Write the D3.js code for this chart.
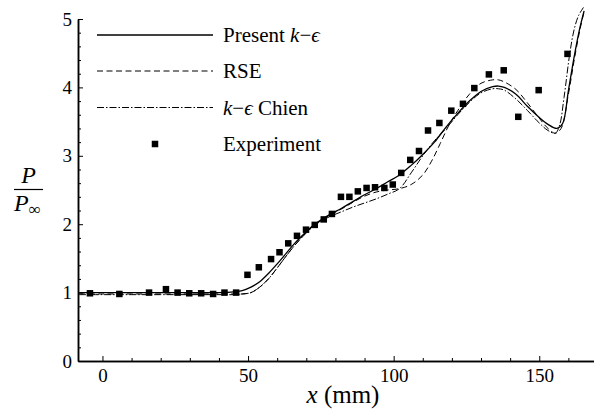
<!DOCTYPE html>
<html>
<head>
<meta charset="utf-8">
<script src="https://cdn.jsdelivr.net/npm/d3@7"></script>
<style>
  body { margin: 0; background: #fff; }
</style>
</head>
<body>
<div id="visualization"></div>
<script>
// experiment (squares)
const expX = [-4.3, 5.8, 16.0, 21.8, 25.8, 29.8, 33.9, 38.0, 41.9, 45.9, 49.8, 53.7, 57.9, 60.8,
  63.8, 66.8, 69.9, 72.9, 76.0, 78.8, 81.9, 84.8, 87.7, 90.7, 93.6, 96.8, 99.7, 102.6, 105.7,
  108.7, 111.8, 115.7, 119.8, 123.8, 127.7, 132.7, 137.8, 142.8, 149.8, 159.7];
const expY = [0.99, 0.98, 1.0, 1.05, 1.0, 0.99, 0.99, 0.98, 1.0, 1.0, 1.26, 1.37, 1.49, 1.59,
  1.72, 1.83, 1.92, 1.99, 2.07, 2.15, 2.40, 2.40, 2.48, 2.53, 2.54, 2.53, 2.58, 2.75, 2.94,
  3.07, 3.37, 3.48, 3.66, 3.76, 3.99, 4.19, 4.25, 3.57, 3.96, 4.49];

// present k-eps (solid)
const presX = [-8, 0, 10, 20, 30, 40, 45, 48, 51, 54, 57, 60, 63, 66, 69, 72, 75, 78, 82, 86,
  90, 94, 98, 102, 106, 110, 114, 118, 122, 126, 130, 134, 136, 138, 142, 146, 150, 153, 156,
  158, 160, 162, 164, 165.4];
const presY = [1.0, 1.0, 1.0, 1.0, 1.0, 1.0, 1.01, 1.03, 1.08, 1.16, 1.28, 1.42, 1.57, 1.72,
  1.85, 1.97, 2.06, 2.14, 2.23, 2.33, 2.43, 2.52, 2.62, 2.72, 2.86, 3.02, 3.20, 3.42, 3.62,
  3.80, 3.94, 4.01, 4.02, 4.0, 3.90, 3.72, 3.56, 3.46, 3.40, 3.47, 3.95, 4.45, 4.88, 5.12];

// RSE (dashed)
const rseX = [-8, 0, 10, 20, 30, 40, 45, 48, 51, 54, 57, 60, 63, 66, 69, 72, 75, 78, 82, 86,
  90, 94, 98, 102, 106, 110, 113, 116, 119, 122, 126, 130, 134, 136, 138, 142, 146, 150, 153,
  155.5, 157.5, 160, 162, 164, 165.5];
const rseY = [0.98, 0.98, 0.98, 0.98, 0.98, 0.98, 0.98, 0.98, 1.0, 1.08, 1.2, 1.36, 1.53, 1.69,
  1.83, 1.96, 2.05, 2.13, 2.22, 2.32, 2.41, 2.47, 2.50, 2.52, 2.58, 2.72, 2.92, 3.18, 3.45,
  3.66, 3.90, 4.06, 4.11, 4.11, 4.08, 3.97, 3.77, 3.55, 3.40, 3.33, 3.40, 3.90, 4.40, 4.85, 5.12];

// k-eps Chien (dash-dot)
const chienX = [-8, 0, 10, 20, 30, 40, 45, 48, 51, 54, 57, 60, 63, 66, 69, 72, 75, 78, 82, 86,
  90, 94, 98, 102, 106, 110, 114, 118, 122, 126, 130, 134, 136, 138, 142, 146, 150, 153, 155.5,
  157, 158.5, 160.5, 162, 163.5, 165.2];
const chienY = [0.97, 0.97, 0.97, 0.97, 0.97, 0.97, 0.97, 0.98, 1.0, 1.08, 1.2, 1.36, 1.53, 1.69,
  1.83, 1.95, 2.04, 2.11, 2.18, 2.25, 2.31, 2.37, 2.44, 2.52, 2.75, 3.0, 3.22, 3.40, 3.60, 3.78,
  3.92, 3.98, 3.98, 3.96, 3.83, 3.66, 3.48, 3.37, 3.33, 3.45, 3.85, 4.50, 4.85, 5.05, 5.17];

const xMajor = [0, 50, 100, 150];
const xMinor = [10, 20, 30, 40, 60, 70, 80, 90, 110, 120, 130, 140, 160];
const yMajor = [0, 1, 2, 3, 4, 5];
const yMinor = d3.range(0.2, 5, 0.2).filter(v => Math.abs(v - Math.round(v)) > 0.01);

const W = 594, H = 419;
const FONT = "Liberation Serif, DejaVu Serif, serif";
const svg = d3.select('#visualization').append('svg')
  .attr('width', W).attr('height', H);

const x = d3.scaleLinear().domain([-8.4, 168.8]).range([78, 594]);
const y = d3.scaleLinear().domain([0, 5]).range([361, 19]);

// axes, ticks pointing inward
function styleAxis(g) {
  g.attr('font-family', FONT).attr('font-size', 19);
  g.select('.domain').attr('stroke', '#000').attr('stroke-width', 1.5);
  g.selectAll('.tick line').attr('stroke', '#000').attr('stroke-width', 1);
  g.selectAll('.tick text').attr('fill', '#000');
}

svg.append('g').attr('transform', `translate(0,${y(0)})`)
  .call(d3.axisBottom(x).tickValues(xMinor).tickSize(-3).tickFormat('').tickSizeOuter(0))
  .call(styleAxis);
svg.append('g').attr('transform', `translate(0,${y(0)})`)
  .call(d3.axisBottom(x).tickValues(xMajor).tickSize(-5).tickPadding(8).tickSizeOuter(0))
  .call(styleAxis);

svg.append('g').attr('transform', `translate(${x.range()[0]},0)`)
  .call(d3.axisLeft(y).tickValues(yMinor).tickSize(-3).tickFormat('').tickSizeOuter(0))
  .call(styleAxis);
svg.append('g').attr('transform', `translate(${x.range()[0]},0)`)
  .call(d3.axisLeft(y).tickValues(yMajor).tickSize(-5).tickPadding(6)
    .tickFormat(d3.format('d')).tickSizeOuter(0))
  .call(styleAxis);

// curves
const line = d3.line().x(d => x(d[0])).y(d => y(d[1])).curve(d3.curveCatmullRom.alpha(0.5));
const series = [
  { xs: presX, ys: presY, dash: null, w: 1.3 },
  { xs: rseX, ys: rseY, dash: '6,3.5', w: 1 },
  { xs: chienX, ys: chienY, dash: '7,2,1.5,2', w: 1 }
];
series.forEach(s => {
  svg.append('path')
    .datum(d3.zip(s.xs, s.ys))
    .attr('d', line)
    .attr('fill', 'none')
    .attr('stroke', '#000')
    .attr('stroke-width', s.w)
    .attr('stroke-dasharray', s.dash);
});

// experiment squares
const sq = 6.5;
svg.append('g').selectAll('rect')
  .data(d3.zip(expX, expY))
  .join('rect')
  .attr('x', d => x(d[0]) - sq / 2)
  .attr('y', d => y(d[1]) - sq / 2)
  .attr('width', sq).attr('height', sq)
  .attr('fill', '#000');

// legend
const leg = svg.append('g').attr('font-family', FONT).attr('font-size', 21);
const legY = [35, 71, 107.5, 144];
series.forEach((s, i) => {
  leg.append('line')
    .attr('x1', 97).attr('x2', 213).attr('y1', legY[i]).attr('y2', legY[i])
    .attr('stroke', '#000').attr('stroke-width', s.w)
    .attr('stroke-dasharray', s.dash);
});
leg.append('rect').attr('x', 155 - sq / 2).attr('y', legY[3] - sq / 2)
  .attr('width', sq).attr('height', sq).attr('fill', '#000');

function legText(i, parts) {
  const t = leg.append('text').attr('x', 223).attr('y', legY[i] + 7);
  parts.forEach(p => t.append('tspan').text(p[0]).attr('font-style', p[1] ? 'italic' : 'normal'));
}
legText(0, [['Present ', false], ['k', true], ['\u2212', false], ['\u03f5', true]]);
legText(1, [['RSE', false]]);
legText(2, [['k', true], ['\u2212', false], ['\u03f5', true], [' Chien', false]]);
legText(3, [['Experiment', false]]);

// axis titles
const titles = svg.append('g').attr('font-family', FONT);
const xt = titles.append('text').attr('x', 343).attr('y', 403)
  .attr('text-anchor', 'middle').attr('font-size', 25);
xt.append('tspan').text('x').attr('font-style', 'italic');
xt.append('tspan').text(' (mm)');

titles.append('text').attr('x', 28.5).attr('y', 183).attr('text-anchor', 'middle')
  .attr('font-size', 24).attr('font-style', 'italic').text('P');
titles.append('line').attr('x1', 14).attr('x2', 43).attr('y1', 189.5).attr('y2', 189.5)
  .attr('stroke', '#000').attr('stroke-width', 1.2);
const yt = titles.append('text').attr('x', 14).attr('y', 211);
yt.append('tspan').text('P').attr('font-size', 24).attr('font-style', 'italic');
yt.append('tspan').text('\u221e').attr('font-size', 17).attr('dy', 4);
</script>
</body>
</html>
